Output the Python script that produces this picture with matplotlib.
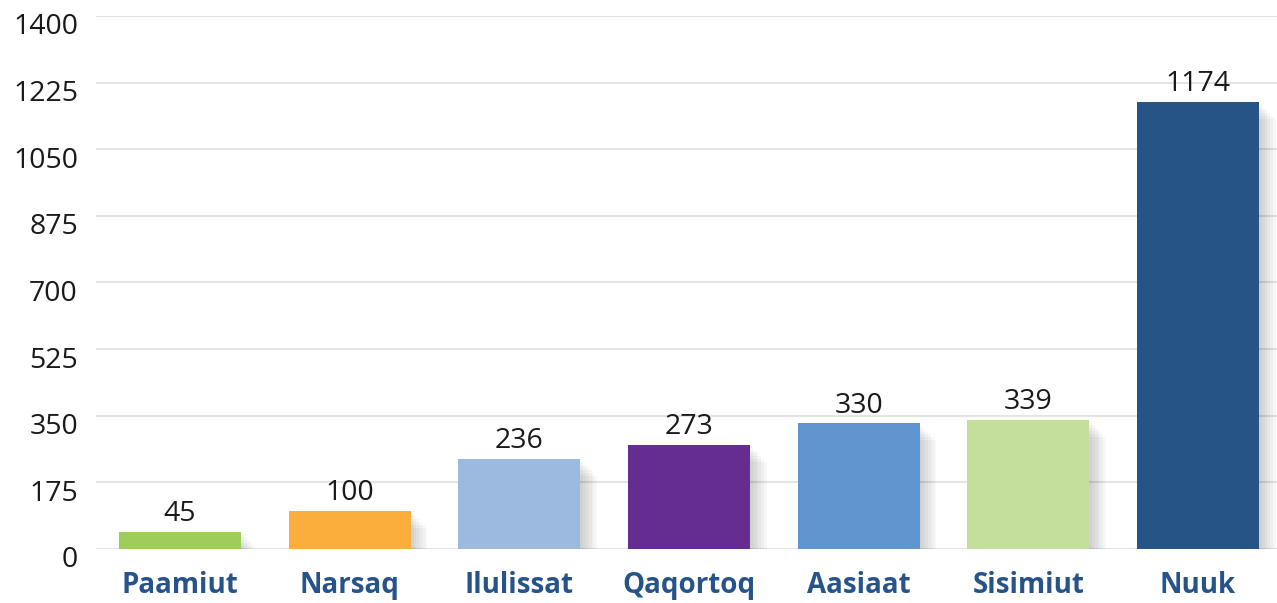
import matplotlib
matplotlib.use("Agg")
import matplotlib.pyplot as plt
import matplotlib.patheffects as pe
import matplotlib.transforms as mtransforms

# --- data ---
towns = ["Paamiut", "Narsaq", "Ilulissat", "Qaqortoq", "Aasiaat", "Sisimiut", "Nuuk"]
values = [45, 100, 236, 273, 330, 339, 1174]
colors = ["#9ecd5a", "#fbae3c", "#9cb9e0", "#662d91", "#6096d0", "#c3df9b", "#265486"]
yticks = [0, 175, 350, 525, 700, 875, 1050, 1225, 1400]

LABEL = "#26548a"
plt.rcParams["font.family"] = ["Open Sans", "DejaVu Sans"]

fig = plt.figure(figsize=(12.77, 6.03), dpi=100, facecolor="white")
ax = fig.add_axes([0.0752, 0.0896, 0.9248, 0.8839])

# soft drop shadow: several faint offset copies
shadow = [pe.SimplePatchShadow(offset=(d, -d), shadow_rgbFace="black", alpha=0.03)
          for d in (2, 4, 6, 8, 10, 12)] + [pe.Normal()]

x = list(range(len(towns)))
bars = ax.bar(x, values, width=0.72, color=colors, zorder=3)
for b in bars:
    b.set_path_effects(shadow)

for xi, v in zip(x, values):
    ax.text(xi, v + 10, str(v), ha="center", va="bottom", fontsize=20.5,
            color="#1a1a1a", zorder=4)

ax.set_ylim(0, 1400)
ax.set_xlim(-0.495, 6.466)
ax.set_yticks(yticks)
ax.set_yticklabels([str(t) for t in yticks], fontsize=20.5, color="#1a1a1a")
ax.set_xticks(x)
ax.set_xticklabels(towns, fontsize=20, fontweight="bold", color=LABEL)
ax.tick_params(axis="both", length=0)
ax.tick_params(axis="x", pad=16)
ax.tick_params(axis="y", pad=13)

# y labels sit a little below their gridlines in the original
shift = mtransforms.ScaledTranslation(0, -8 / 100, fig.dpi_scale_trans)
for lbl in ax.get_yticklabels():
    lbl.set_transform(lbl.get_transform() + shift)

ax.grid(axis="y", color="#e4e4e4", lw=1.5, zorder=0)
ax.set_axisbelow(True)
for s in ax.spines.values():
    s.set_visible(False)

fig.savefig("out.png", dpi=100, facecolor="white")
